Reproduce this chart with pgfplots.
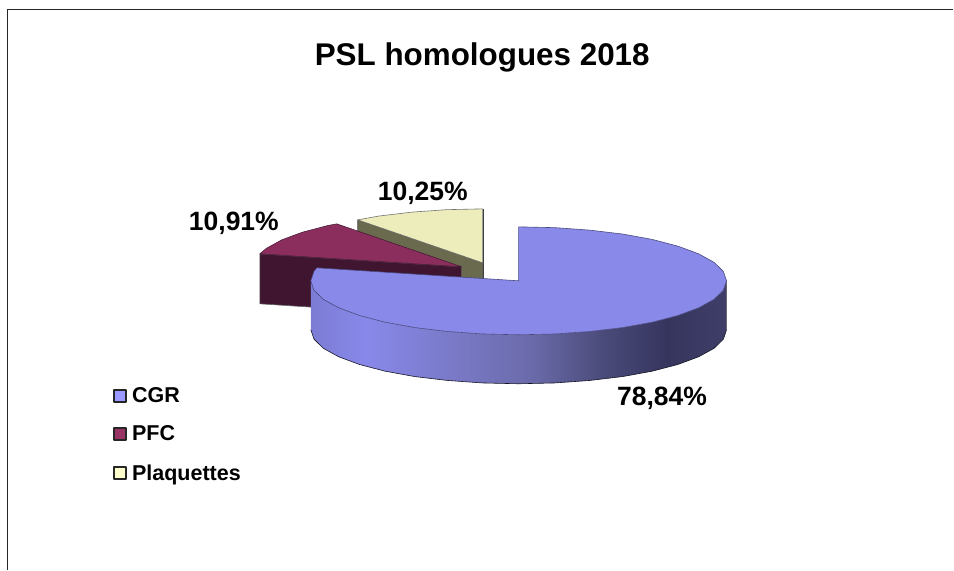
\documentclass[border=0pt]{standalone}
\usepackage{pgfplots}
\pgfplotsset{compat=1.18}
\usepackage{fontspec}
\setmainfont{Liberation Sans}
\definecolor{cgrtop}{HTML}{8989EA}
\definecolor{cgredge}{HTML}{4A4A80}
\definecolor{pfctop}{HTML}{8B2E5E}
\definecolor{pfcside}{HTML}{3F1530}
\definecolor{platop}{HTML}{EDEDBB}
\definecolor{plaside}{HTML}{6A6A4E}
\definecolor{legcgr}{HTML}{9999FF}
\definecolor{legpfc}{HTML}{993366}
\definecolor{legpla}{HTML}{FFFFCC}
\definecolor{sa}{HTML}{7C7CD4}
\definecolor{sb}{HTML}{8888EA}
\definecolor{sc}{HTML}{7777C2}
\definecolor{sd}{HTML}{6A6AAA}
\definecolor{se}{HTML}{4C4C7C}
\definecolor{sf}{HTML}{35355E}
\definecolor{sg}{HTML}{3E3E68}
\pgfdeclarehorizontalshading{cgrside}{100bp}{
 color(0bp)=(sa); color(25bp)=(sa); color(31.7bp)=(sb); color(43.75bp)=(sc);
 color(51.7bp)=(sd); color(59.7bp)=(se); color(67.8bp)=(sf); color(75bp)=(sg); color(100bp)=(sg)}
\begin{document}
\begin{tikzpicture}
\begin{axis}[
  scale only axis, width=954bp, height=570bp,
  xmin=0, xmax=954, ymin=0, ymax=570, y dir=reverse,
  axis line style={draw=none}, ticks=none, clip=false,
  every axis plot/.append style={line join=round},
]
% frame
\addplot[black!85, line width=1.2bp] coordinates {(7.5,570) (7.5,9.3) (954,9.3)};
% Plaquettes
\addplot[fill=plaside, draw=black!75, line width=0.6bp] coordinates {(358,220) (483,263) (483,312) (358,269)} -- cycle;
\addplot[fill=platop, draw=black!55, line width=0.6bp] coordinates {(483,263) (358,220) (379,216.2) (411.9,212.3) (446.9,209.8) (483,209)} -- cycle;
\addplot[black!75, line width=1bp] coordinates {(483.3,209) (483.3,280)};
% PFC
\addplot[fill=pfcside, draw=black!60, line width=0.6bp] coordinates {(260,254) (462,267) (462,317) (260,304)} -- cycle;
\addplot[fill=pfctop, draw=pfcside, line width=0.5bp] coordinates {(462,267) (260,254) (266.5,248.5) (281.9,240) (302.7,232.3) (328.3,225.6) (337,224)} -- cycle;
% CGR side
\addplot[shade, shading=cgrside, draw=none] coordinates {
 (727,281) (723.8,290.4) (714.5,299.5) (699.1,308) (678.3,315.7) (652.7,322.4) (623,327.8) (590.1,331.7) (555.1,334.2) (519,335)
 (482.9,334.2) (447.9,331.7) (415,327.8) (385.3,322.4) (359.7,315.7) (338.9,308) (323.5,299.5) (314.2,290.4) (311,281)
 (311,330) (314.2,339.4) (323.5,348.5) (338.9,357) (359.7,364.7) (385.3,371.4) (415,376.8) (447.9,380.7) (482.9,383.2) (519,384)
 (555.1,383.2) (590.1,380.7) (623,376.8) (652.7,371.4) (678.3,364.7) (699.1,357) (714.5,348.5) (723.8,339.4) (727,330)} -- cycle;
\addplot[black!70!cgredge, line width=0.6bp] coordinates {
 (311,330) (314.2,339.4) (323.5,348.5) (338.9,357) (359.7,364.7) (385.3,371.4) (415,376.8) (447.9,380.7) (482.9,383.2) (519,384)
 (555.1,383.2) (590.1,380.7) (623,376.8) (652.7,371.4) (678.3,364.7) (699.1,357) (714.5,348.5) (723.8,339.4) (727,330) (727,281)};
% CGR top
\addplot[fill=cgrtop, draw=cgredge, line width=0.6bp] coordinates {
 (519,281) (519,227) (555.1,227.8) (590.1,230.3) (623,234.2) (652.7,239.6) (678.3,246.3) (699.1,254) (714.5,262.5) (723.8,271.6)
 (727,281) (723.8,290.4) (714.5,299.5) (699.1,308) (678.3,315.7) (652.7,322.4) (623,327.8) (590.1,331.7) (555.1,334.2) (519,335)
 (482.9,334.2) (447.9,331.7) (415,327.8) (385.3,322.4) (359.7,315.7) (338.9,308) (323.5,299.5) (314.2,290.4) (311,281) (314.2,271.6) (317,268)} -- cycle;
% legend markers
\addplot[only marks, mark=square*, mark size=6bp, mark options={fill=legcgr, draw=black!85, line width=2bp}] coordinates {(120,396)};
\addplot[only marks, mark=square*, mark size=6bp, mark options={fill=legpfc, draw=black!85, line width=2bp}] coordinates {(120,434)};
\addplot[only marks, mark=square*, mark size=6bp, mark options={fill=legpla, draw=black!85, line width=2bp}] coordinates {(120,473)};
% text
\node[font=\fontsize{31.4bp}{34bp}\selectfont\bfseries, anchor=base] at (axis cs:482.5,66) {PSL homologues 2018};
\node[font=\fontsize{26.5bp}{30bp}\selectfont\bfseries, anchor=base] at (axis cs:234,231) {10,91\%};
\node[font=\fontsize{26.5bp}{30bp}\selectfont\bfseries, anchor=base] at (axis cs:423,201) {10,25\%};
\node[font=\fontsize{26.5bp}{30bp}\selectfont\bfseries, anchor=base] at (axis cs:662.5,406) {78,84\%};
\node[font=\fontsize{21.5bp}{24bp}\selectfont\bfseries, anchor=base west, inner sep=0pt] at (axis cs:132,403) {CGR};
\node[font=\fontsize{21.5bp}{24bp}\selectfont\bfseries, anchor=base west, inner sep=0pt] at (axis cs:132,441) {PFC};
\node[font=\fontsize{21.5bp}{24bp}\selectfont\bfseries, anchor=base west, inner sep=0pt] at (axis cs:132,481) {Plaquettes};
\end{axis}
\end{tikzpicture}
\end{document}
